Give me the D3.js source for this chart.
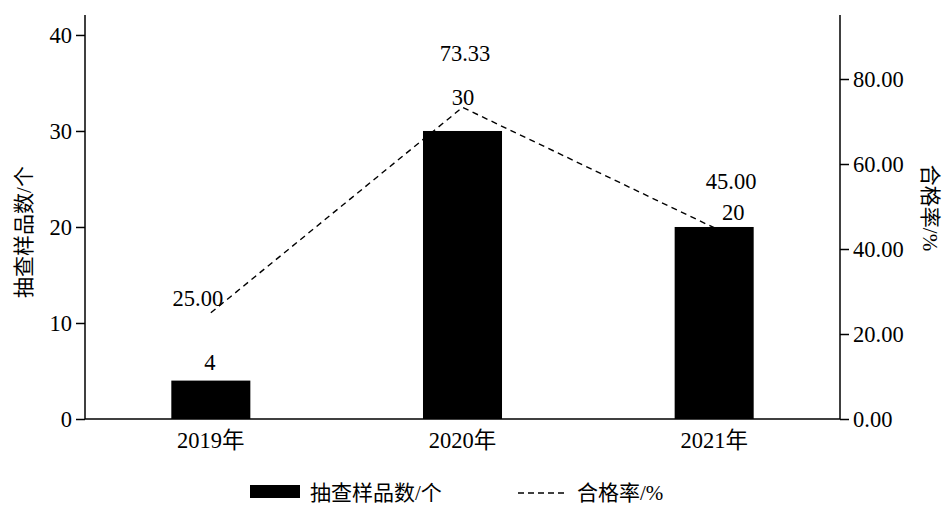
<!DOCTYPE html>
<html><head><meta charset="utf-8">
<script src="https://cdn.jsdelivr.net/npm/d3@7/dist/d3.min.js"></script>
<style>
body{margin:0;background:#fff;}
text{font-family:"Liberation Serif","Times New Roman","Noto Sans CJK SC",serif;fill:#000;}
</style></head>
<body><svg id="c" width="951" height="507"></svg>
<script>
const categories = ["2019年","2020年","2021年"];
const sampleCounts = [4, 30, 20];
const passRates = [25.00, 73.33, 45.00];
const leftTicks = [0, 10, 20, 30, 40];
const rightTicks = [0, 20, 40, 60, 80];
const leftTitle = "抽查样品数/个";
const rightTitle = "合格率/%";

const svg = d3.select("#c");
const L = 85, R = 840, T = 15, B = 419;
const x = d3.scaleBand().domain(categories).range([L, R]).padding(0);
const yL = d3.scaleLinear().domain([0, 42.08]).range([B, T]);
const yR = d3.scaleLinear().domain([0, 95.06]).range([B, T]);
const barW = x.bandwidth() * 0.314;
const fs = 22.5;
const cjk = '"Noto Sans CJK SC",sans-serif';

// left axis
const axL = svg.append("g").attr("transform", `translate(${L},0)`)
  .call(d3.axisLeft(yL).tickValues(leftTicks).tickSize(9).tickPadding(4).tickFormat(d3.format("d")));
axL.select(".domain").attr("d", `M0,${T}V${B}`);
// right axis
const axR = svg.append("g").attr("transform", `translate(${R},0)`)
  .call(d3.axisRight(yR).tickValues(rightTicks).tickSize(9).tickPadding(4).tickFormat(d3.format(".2f")));
axR.select(".domain").attr("d", `M0,${T}V${B}`);
// bottom axis
const axB = svg.append("g").attr("transform", `translate(0,${B})`)
  .call(d3.axisBottom(x).tickSize(0).tickPadding(13));
axB.select(".domain").attr("d", `M${L},0H${R}`);
svg.selectAll(".tick text").attr("font-size", fs).attr("font-family", '"Liberation Serif","Noto Sans CJK SC",serif');
svg.selectAll(".domain, .tick line").attr("stroke", "#000").attr("stroke-width", 1.5);

// bars
const bx = (i) => x(categories[i]) + x.bandwidth()/2;
svg.selectAll("rect.bar").data(sampleCounts).join("rect").attr("class","bar")
  .attr("x", (d,i) => bx(i) - barW/2)
  .attr("width", barW)
  .attr("y", d => yL(d)).attr("height", d => B - yL(d)).attr("fill", "#000");
const barLblOff = [[-1,-11],[0.5,-26],[19,-7]];
svg.selectAll("text.bl").data(sampleCounts).join("text").attr("class","bl")
  .attr("x", (d,i) => bx(i) + barLblOff[i][0])
  .attr("y", (d,i) => yL(d) + barLblOff[i][1]).attr("text-anchor","middle").attr("font-size", fs).text(d => d);

// line
const line = d3.line().x((d,i) => bx(i)).y(d => yR(d));
svg.append("path").datum(passRates).attr("d", line).attr("fill","none")
  .attr("stroke","#000").attr("stroke-width",1.4).attr("stroke-dasharray","6,4.5");
const lineLblOff = [[-13,-7],[2.5,-46],[17,-39]];
svg.selectAll("text.ll").data(passRates).join("text").attr("class","ll")
  .attr("x", (d,i) => bx(i) + lineLblOff[i][0])
  .attr("y", (d,i) => yR(d) + lineLblOff[i][1]).attr("text-anchor","middle").attr("font-size", fs)
  .text(d => d3.format(".2f")(d));

// titles
svg.append("text").attr("transform","translate(31,232) rotate(-90)").attr("text-anchor","middle")
  .attr("font-size", 21).attr("font-family", cjk).text(leftTitle);
svg.append("text").attr("transform","translate(923,208) rotate(90)").attr("text-anchor","middle")
  .attr("font-size", 21).attr("font-family", cjk).text(rightTitle);

// legend
svg.append("rect").attr("x",250).attr("y",485).attr("width",50).attr("height",13).attr("fill","#000");
svg.append("text").attr("x",310).attr("y",500).attr("font-size",21)
  .attr("font-family", cjk).text(leftTitle);
svg.append("line").attr("x1",518).attr("x2",564).attr("y1",493).attr("y2",493)
  .attr("stroke","#000").attr("stroke-width",1.4).attr("stroke-dasharray","6,4");
svg.append("text").attr("x",577).attr("y",500).attr("font-size",21)
  .attr("font-family", cjk).text(rightTitle);
</script></body></html>
